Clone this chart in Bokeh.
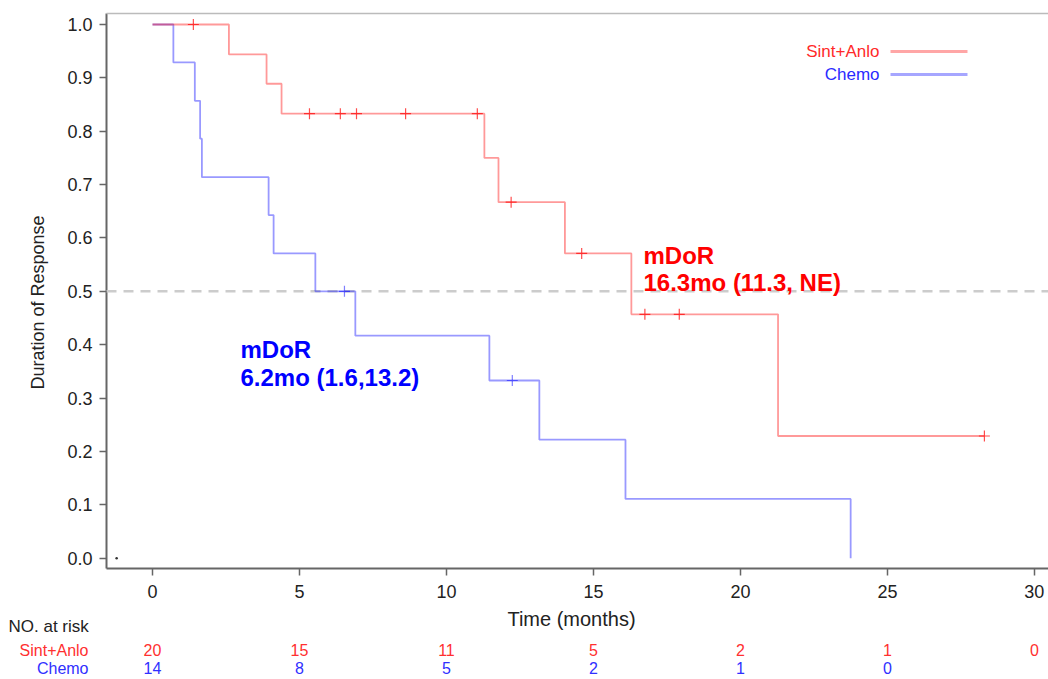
import math
from bokeh.plotting import figure
from bokeh.models import LinearAxis, FixedTicker, PrintfTickFormatter, Range1d
from bokeh.core.properties import value
from bokeh.embed import file_html
from bokeh.resources import INLINE

# ---------------- data ----------------
sa_time = [0.0, 2.6, 3.88, 4.39, 11.29, 11.77, 14.03, 16.29, 21.28, 28.3]
sa_surv = [1.0, 0.944, 0.889, 0.833, 0.75, 0.667, 0.571, 0.457, 0.229, 0.229]
sa_cens_time = [1.39, 5.34, 6.39, 6.94, 8.61, 11.05, 12.2, 14.6, 16.75, 17.92, 28.3]
sa_cens_surv = [1.0, 0.833, 0.833, 0.833, 0.833, 0.833, 0.667, 0.571, 0.457, 0.457, 0.229]

ch_time = [0.0, 0.71, 1.44, 1.62, 1.68, 3.95, 4.12, 5.54, 6.9, 11.46, 13.16, 16.09, 23.75]
ch_surv = [1.0, 0.929, 0.857, 0.786, 0.714, 0.643, 0.571, 0.5, 0.417, 0.333, 0.222, 0.111, 0.0]
ch_cens_time = [6.53, 12.24]
ch_cens_surv = [0.5, 0.333]

stray_x = [-1.22]
stray_y = [0.0]

risk_times_sa = [0, 5, 10, 15, 20, 25, 30]
risk_sa = ["20", "15", "11", "5", "2", "1", "0"]
risk_times_ch = [0, 5, 10, 15, 20, 25]
risk_ch = ["14", "8", "5", "2", "1", "0"]

x_ticks = [0, 5, 10, 15, 20, 25, 30]
y_ticks = [0.0, 0.1, 0.2, 0.3, 0.4, 0.5, 0.6, 0.7, 0.8, 0.9, 1.0]

series_names = ["Sint+Anlo", "Chemo"]
median_label_sa = ["mDoR", "16.3mo (11.3, NE)"]
median_label_ch = ["mDoR", "6.2mo (1.6,13.2)"]

# ---------------- layout helpers (pixel <-> data) ----------------
W, H = 1048, 679
X_PER_PX = 1.0 / 29.396          # months per pixel
Y_PER_PX = 1.0 / 533.7           # probability per pixel
X_ZERO_PX, Y_ZERO_PX = 152.0, 557.7


def px2x(px):
    return (px - X_ZERO_PX) * X_PER_PX


def py2y(py):
    return (Y_ZERO_PX - py) * Y_PER_PX


AX_L, AX_R = px2x(106), px2x(W)      # plotting area left/right
AX_B, AX_T = py2y(568), py2y(13)     # plotting area bottom/top

FONT = "Liberation Sans"
RED = "#ff0000"
BLUE = "#0000ff"
TXT = "#222222"
AXC = "#666666"

p = figure(width=W, height=H, output_backend="svg", toolbar_location=None,
           x_range=Range1d(px2x(0), px2x(W)), y_range=Range1d(py2y(H), py2y(0)),
           min_border_left=0, min_border_right=0, min_border_top=0,
           min_border_bottom=0, x_axis_type=None, y_axis_type=None)
p.background_fill_color = "white"
p.border_fill_color = "white"
p.outline_line_color = None
p.xgrid.grid_line_color = None
p.ygrid.grid_line_color = None


def style_axis(ax):
    ax.axis_line_color = None
    ax.major_tick_line_color = AXC
    ax.major_tick_line_width = 1.5
    ax.major_tick_out = 7
    ax.major_tick_in = 0
    ax.minor_tick_line_color = None
    ax.major_label_text_font = FONT
    ax.major_label_text_font_size = "18px"
    ax.major_label_text_color = TXT


xaxis = LinearAxis(fixed_location=AX_B, ticker=FixedTicker(ticks=x_ticks))
style_axis(xaxis)
xaxis.major_label_standoff = 9
p.add_layout(xaxis, "below")

yaxis = LinearAxis(fixed_location=AX_L, ticker=FixedTicker(ticks=y_ticks),
                   formatter=PrintfTickFormatter(format="%.1f"))
style_axis(yaxis)
yaxis.major_label_standoff = 7
p.add_layout(yaxis, "left")

# frame lines: left & bottom axis lines, light top border
p.segment(x0=[AX_L, AX_L], y0=[AX_B, AX_B], x1=[AX_L, AX_R], y1=[AX_T, AX_B],
          line_color=AXC, line_width=2)
p.segment(x0=[AX_L], y0=[AX_T], x1=[AX_R], y1=[AX_T], line_color="#bbbbbb",
          line_width=1.5)

# median reference line
p.segment(x0=[AX_L], y0=[0.5], x1=[AX_R], y1=[0.5], line_color="#cccccc",
          line_width=2.5, line_dash="10 7")

# KM curves
p.step(ch_time, ch_surv, mode="after", line_color=BLUE, line_alpha=0.4, line_width=1.8)
p.step(sa_time, sa_surv, mode="after", line_color=RED, line_alpha=0.4, line_width=1.8)
p.scatter(ch_cens_time, ch_cens_surv, marker="cross", size=11, line_color=BLUE,
          line_alpha=0.5, line_width=1.2)
p.scatter(sa_cens_time, sa_cens_surv, marker="cross", size=11, line_color=RED,
          line_alpha=0.7, line_width=1.2)
p.scatter(stray_x, stray_y, marker="circle", size=2.5, fill_color="#333333",
          line_color=None)

# axis titles
p.text(x=[px2x(37)], y=[py2y(302)], text=["Duration of Response"], angle=math.pi / 2,
       text_align="center", text_baseline="middle", text_font=value(FONT),
       text_font_size="18px", text_color=TXT)
p.text(x=[px2x(571)], y=[py2y(618)], text=["Time (months)"], text_align="center",
       text_baseline="middle", text_font=value(FONT), text_font_size="20px",
       text_color=TXT)

# legend (text left, line right)
leg_py = [51, 74]
leg_colors = [RED, BLUE]
leg_text_colors = ["#ff2a2a", "#2a2aff"]
for name, lpy, lc, tc in zip(series_names, leg_py, leg_colors, leg_text_colors):
    p.text(x=[px2x(879)], y=[py2y(lpy)], text=[name], text_align="right",
           text_baseline="middle", text_font=value(FONT), text_font_size="17px",
           text_color=tc)
    p.segment(x0=[px2x(890)], y0=[py2y(lpy)], x1=[px2x(967)], y1=[py2y(lpy)],
              line_color=lc, line_alpha=0.35, line_width=3)

# median annotations
for txt, bpy in zip(median_label_sa, [255, 282]):
    p.text(x=[px2x(643)], y=[py2y(bpy)], text=[txt], text_align="left",
           text_baseline="alphabetic", text_font=value(FONT),
           text_font_style="bold", text_font_size="24px", text_color=RED)
for txt, bpy in zip(median_label_ch, [349, 376.5]):
    p.text(x=[px2x(240)], y=[py2y(bpy)], text=[txt], text_align="left",
           text_baseline="alphabetic", text_font=value(FONT),
           text_font_style="bold", text_font_size="24px", text_color=BLUE)

# number at risk table
p.text(x=[px2x(8)], y=[py2y(626)], text=["NO. at risk"], text_align="left",
       text_baseline="middle", text_font=value(FONT), text_font_size="17px",
       text_color=TXT)
row_py = [649.5, 667.5]
row_colors = ["#ff3030", "#3030ff"]
for name, rpy, rc in zip(series_names, row_py, row_colors):
    p.text(x=[px2x(88)], y=[py2y(rpy)], text=[name], text_align="right",
           text_baseline="middle", text_font=value(FONT), text_font_size="16px",
           text_color=rc)
p.text(x=risk_times_sa, y=[py2y(row_py[0])] * len(risk_times_sa), text=risk_sa,
       text_align="center", text_baseline="middle", text_font=value(FONT),
       text_font_size="16px", text_color=row_colors[0])
p.text(x=risk_times_ch, y=[py2y(row_py[1])] * len(risk_times_ch), text=risk_ch,
       text_align="center", text_baseline="middle", text_font=value(FONT),
       text_font_size="16px", text_color=row_colors[1])

open("out.html", "w").write(file_html(p, INLINE))
